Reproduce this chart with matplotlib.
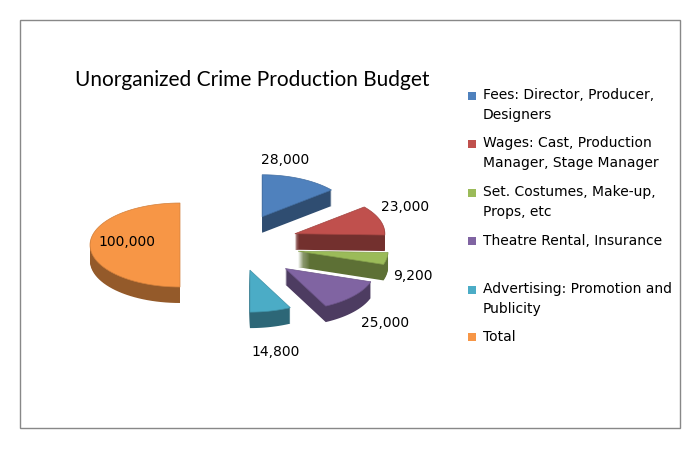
import numpy as np
import matplotlib.pyplot as plt
from matplotlib.patches import Polygon, Rectangle
from matplotlib.colors import to_rgb

categories = ['Fees: Director, Producer,\nDesigners',
              'Wages: Cast, Production\nManager, Stage Manager',
              'Set. Costumes, Make-up,\nProps, etc',
              'Theatre Rental, Insurance',
              'Advertising: Promotion and\nPublicity',
              'Total']
values = [28000, 23000, 9200, 25000, 14800, 100000]
value_labels = ['28,000', '23,000', '9,200', '25,000', '14,800', '100,000']

colors = ['#4f81bd', '#c0504d', '#9bbb59', '#8064a2', '#4bacc6', '#f79646']
explode = [52, 58, 59, 60, 43, 60]
label_pos = [(285, 160), (405, 207), (413, 276), (385, 323), (276, 352), (127, 242)]
legend_y = [105, 153, 202, 241, 299, 337]

fig = plt.figure(figsize=(7, 4.49), dpi=100)
ax = fig.add_axes([0, 0, 1, 1])
ax.set_xlim(0, 700)
ax.set_ylim(449, 0)
ax.axis('off')

ax.add_patch(Rectangle((20, 20), 660, 408, fill=False, ec='#888888', lw=1))
ax.text(75, 80, 'Unorganized Crime Production Budget', fontsize=15,
        family='Lato', va='center')

cx0, cy0 = 240, 245
rx, ry, depth = 90, 42, 16
total = sum(values)

def darker(c, f=0.6):
    return tuple(v * f for v in to_rgb(c))

wedges = []
start = 90.0
for i, v in enumerate(values):
    span = 360.0 * v / total
    a1, a2 = start, start - span
    start = a2
    m = np.radians((a1 + a2) / 2)
    cx = cx0 + explode[i] * np.cos(m)
    cy = cy0 - explode[i] * np.sin(m) * 0.6
    t = np.radians(np.linspace(a1, a2, 60))
    pts = np.column_stack([cx + rx * np.cos(t), cy - ry * np.sin(t)])
    pts = np.vstack([[cx, cy], pts])
    wedges.append((cy, i, pts))

for cy, i, pts in sorted(wedges, key=lambda w: w[0]):
    for d in range(depth, 0, -1):
        ax.add_patch(Polygon(pts + [0, d], closed=True, fc=darker(colors[i]),
                             ec='none', zorder=2))
    ax.add_patch(Polygon(pts, closed=True, fc=colors[i],
                         ec=darker(colors[i], 0.85), lw=0.5, zorder=3))

for lab, (x, y) in zip(value_labels, label_pos):
    ax.text(x, y, lab, fontsize=10, ha='center', va='center', zorder=5)

for c, lab, y in zip(colors, categories, legend_y):
    first = y - 9 if '\n' in lab else y
    ax.add_patch(Rectangle((468, first - 4), 8, 8, fc=c, ec='none'))
    ax.text(483, y, lab, fontsize=10, va='center', linespacing=1.5)

fig.savefig('out.png', dpi=100)
